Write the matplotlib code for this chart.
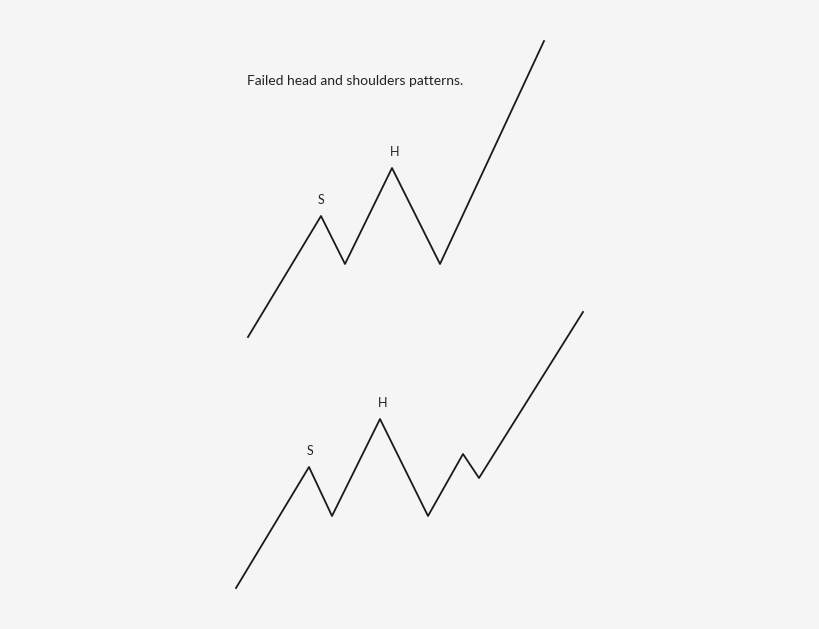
import matplotlib
matplotlib.use("Agg")
import matplotlib.pyplot as plt

# pattern 1 (pixel coords of the reference picture)
top_x = [248, 321, 345, 392, 440, 544]
top_y = [337, 216, 264, 168, 264, 41]

# pattern 2
bot_x = [236, 309, 332, 380, 428, 463, 479, 583]
bot_y = [588, 467, 516, 419, 516, 454, 478, 312]

labels_top = [("S", 321, 200), ("H", 395, 152)]
labels_bot = [("S", 310, 451), ("H", 383, 403)]
title = "Failed head and shoulders patterns."

bg = "#f5f5f5"
fig = plt.figure(figsize=(8.2, 6.29), dpi=100, facecolor=bg)
ax = fig.add_axes([0, 0, 1, 1])
ax.set_facecolor(bg)
ax.set_xlim(0, 820)
ax.set_ylim(629, 0)
ax.axis("off")

ax.plot(top_x, top_y, color="#1a1a1a", lw=1.3)
ax.plot(bot_x, bot_y, color="#1a1a1a", lw=1.3)

for t, x, y in labels_top + labels_bot:
    ax.text(x, y, t, ha="center", va="center", fontsize=9,
            family="Lato", color="#222222")

ax.text(247, 81, title, ha="left", va="center", fontsize=10,
        family="Lato", color="#222222")

fig.savefig("out.png", dpi=100, facecolor=bg)
